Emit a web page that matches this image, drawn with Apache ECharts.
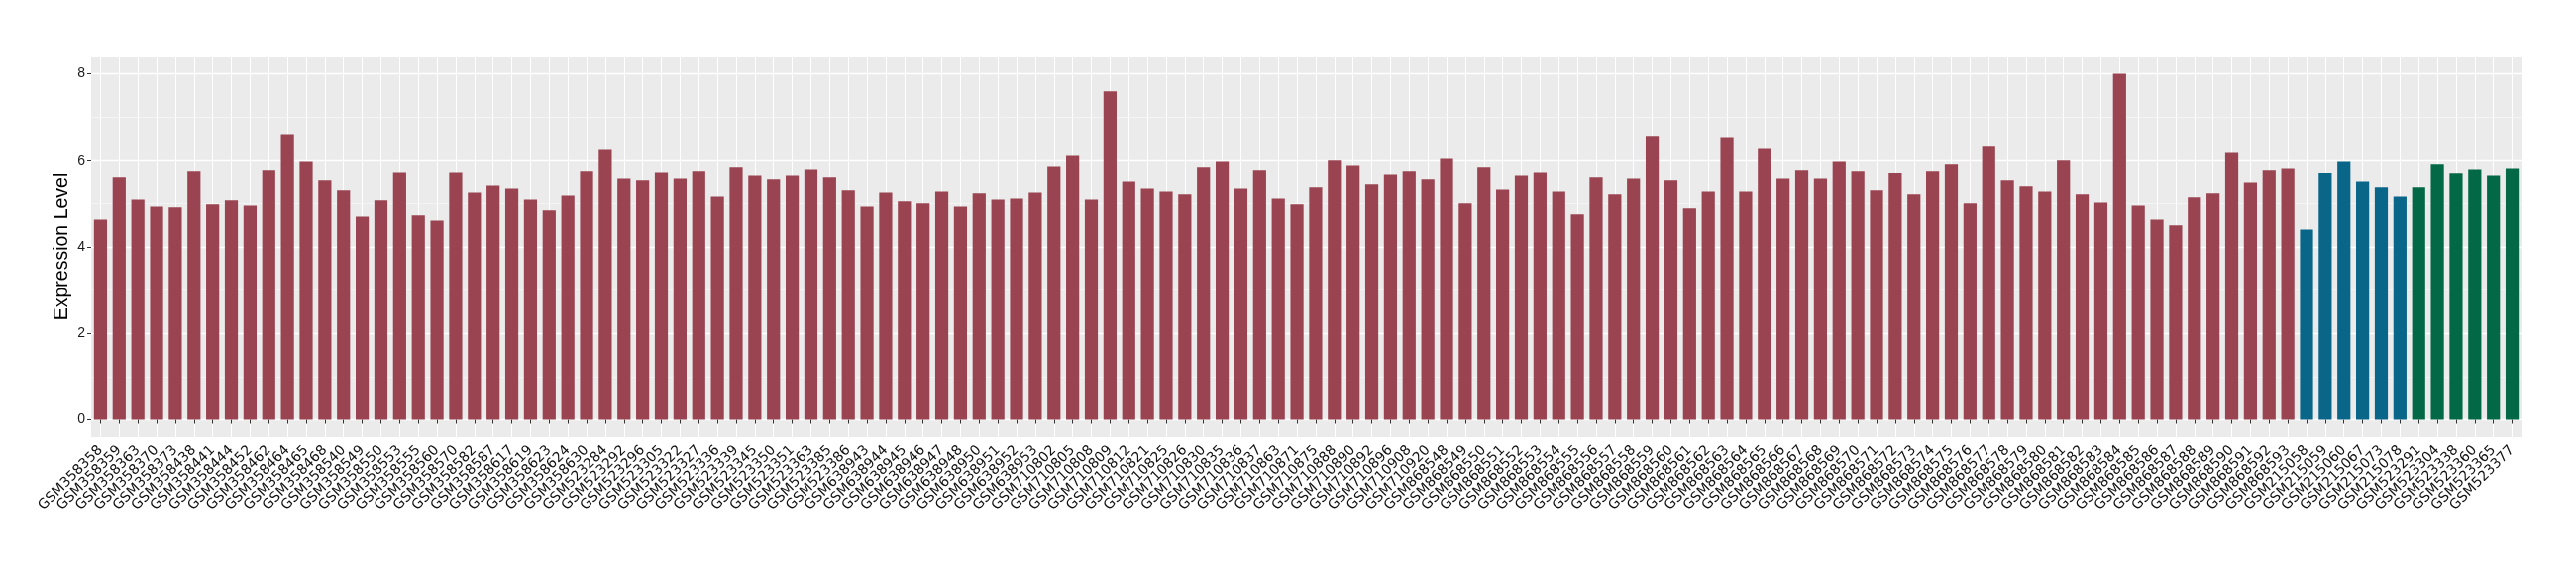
<!DOCTYPE html>
<html>
<head>
<meta charset="utf-8">
<title>Expression Level</title>
<script src="https://cdn.jsdelivr.net/npm/echarts@6/dist/echarts.min.js"></script>
<style>
  html, body { margin: 0; padding: 0; background: #fff; }
  #chart { width: 2600px; height: 580px; }
</style>
</head>
<body>
<div id="chart"></div>
<script>
// sample ids per group (red = first dataset, then blue and green)
const samplesRed = [
  'GSM358358', 'GSM358359', 'GSM358363', 'GSM358370', 'GSM358373', 'GSM358438', 'GSM358441', 'GSM358444', 'GSM358452',
  'GSM358462', 'GSM358464', 'GSM358465', 'GSM358468', 'GSM358540', 'GSM358549', 'GSM358550', 'GSM358553', 'GSM358555',
  'GSM358560', 'GSM358570', 'GSM358582', 'GSM358587', 'GSM358617', 'GSM358619', 'GSM358623', 'GSM358624', 'GSM358630',
  'GSM523284', 'GSM523292', 'GSM523296', 'GSM523305', 'GSM523322', 'GSM523327', 'GSM523336', 'GSM523339', 'GSM523345',
  'GSM523350', 'GSM523351', 'GSM523363', 'GSM523385', 'GSM523386',
  'GSM638943', 'GSM638944', 'GSM638945', 'GSM638946', 'GSM638947', 'GSM638948', 'GSM638950', 'GSM638951', 'GSM638952', 'GSM638953',
  'GSM710802', 'GSM710805', 'GSM710808', 'GSM710809', 'GSM710812', 'GSM710821', 'GSM710825', 'GSM710826', 'GSM710830',
  'GSM710835', 'GSM710836', 'GSM710837', 'GSM710863', 'GSM710871', 'GSM710875', 'GSM710888', 'GSM710890', 'GSM710892',
  'GSM710896', 'GSM710908', 'GSM710920',
  'GSM868548', 'GSM868549', 'GSM868550', 'GSM868551', 'GSM868552', 'GSM868553', 'GSM868554', 'GSM868555', 'GSM868556',
  'GSM868557', 'GSM868558', 'GSM868559', 'GSM868560', 'GSM868561', 'GSM868562', 'GSM868563', 'GSM868564', 'GSM868565',
  'GSM868566', 'GSM868567', 'GSM868568', 'GSM868569', 'GSM868570', 'GSM868571', 'GSM868572', 'GSM868573', 'GSM868574',
  'GSM868575', 'GSM868576', 'GSM868577', 'GSM868578', 'GSM868579', 'GSM868580', 'GSM868581', 'GSM868582', 'GSM868583',
  'GSM868584', 'GSM868585', 'GSM868586', 'GSM868587', 'GSM868588', 'GSM868589', 'GSM868590', 'GSM868591', 'GSM868592',
  'GSM868593'
]
const samplesBlue = ['GSM215058', 'GSM215059', 'GSM215060', 'GSM215067', 'GSM215073', 'GSM215078']
const samplesGreen = ['GSM523291', 'GSM523304', 'GSM523338', 'GSM523360', 'GSM523365', 'GSM523377']

const valuesRed = [
  4.63, 5.60, 5.09, 4.93, 4.91, 5.76, 4.98, 5.07, 4.95, 5.78, 6.60, 5.98, 5.53, 5.30, 4.70, 5.07, 5.73, 4.73, 4.61, 5.73,
  5.25, 5.41, 5.34, 5.09, 4.84, 5.18, 5.76, 6.26, 5.57, 5.53, 5.73, 5.57, 5.76, 5.16, 5.85, 5.64, 5.55, 5.64, 5.80, 5.60,
  5.30, 4.93, 5.25, 5.05, 5.00, 5.27, 4.93, 5.23, 5.09, 5.11, 5.25, 5.87, 6.12, 5.09, 7.59, 5.50, 5.34, 5.27, 5.21, 5.85,
  5.98, 5.34, 5.78, 5.11, 4.98, 5.37, 6.01, 5.89, 5.44, 5.66, 5.76, 5.55, 6.05, 5.00, 5.85, 5.32, 5.64, 5.73, 5.27, 4.75,
  5.60, 5.21, 5.57, 6.56, 5.53, 4.89, 5.27, 6.53, 5.27, 6.28, 5.57, 5.78, 5.57, 5.98, 5.76, 5.30, 5.71, 5.21, 5.76, 5.92,
  5.00, 6.33, 5.53, 5.39, 5.27, 6.01, 5.21, 5.02, 8.00, 4.95, 4.63, 4.50, 5.14, 5.23, 6.19, 5.48, 5.78, 5.82
]
const valuesBlue = [4.40, 5.71, 5.98, 5.50, 5.37, 5.16]
const valuesGreen = [5.37, 5.92, 5.69, 5.80, 5.64, 5.82]

const yTicks = [0, 2, 4, 6, 8]
const yMinorTicks = [1, 3, 5, 7]

const chart = echarts.init(document.getElementById('chart'))

// 每个柱子按分组上色
const barData = []
valuesRed.forEach(v => barData.push({ value: v, itemStyle: { color: '#9A4351' } }))
valuesBlue.forEach(v => barData.push({ value: v, itemStyle: { color: '#0A6688' } }))
valuesGreen.forEach(v => barData.push({ value: v, itemStyle: { color: '#036846' } }))

const option = {
  animation: false,
  backgroundColor: '#ffffff',
  grid: {
    left: 92,
    right: 55,
    top: 57,
    bottom: 139,
    show: true,
    backgroundColor: '#EBEBEB',
    borderWidth: 0
  },
  xAxis: {
    type: 'category',
    data: samplesRed.concat(samplesBlue, samplesGreen),
    boundaryGap: true,
    axisLine: { show: false },
    axisTick: { show: true, alignWithLabel: true, length: 4, lineStyle: { color: '#333333' } },
    axisLabel: {
      interval: 0,
      rotate: 45,
      margin: 11,
      fontSize: 14,
      color: '#111111',
      fontFamily: 'DejaVu Sans'
    },
    splitLine: { show: true, alignWithLabel: true, lineStyle: { color: '#ffffff', width: 1 } }
  },
  yAxis: {
    type: 'value',
    min: -0.4,
    max: 8.4,
    name: 'Expression Level',
    nameLocation: 'middle',
    nameGap: 19,
    nameMoveOverlap: false,
    nameTextStyle: { fontSize: 19.5, color: '#000000', fontFamily: 'Liberation Sans' },
    axisLine: { show: false },
    axisTick: { show: true, customValues: yTicks, length: 4, lineStyle: { color: '#333333' } },
    axisLabel: {
      customValues: yTicks,
      margin: 6,
      fontSize: 14,
      color: '#1A1A1A',
      fontFamily: 'Liberation Sans'
    },
    splitLine: { show: true, lineStyle: { color: '#ffffff', width: 1.4 } }
  },
  series: [
    {
      // 只用来画次网格线, 放在柱子下面
      type: 'line',
      data: [],
      z: 1,
      silent: true,
      markLine: {
        z: 1,
        silent: true,
        symbol: 'none',
        label: { show: false },
        lineStyle: { color: '#F6F6F6', width: 0.8, type: 'solid' },
        data: yMinorTicks.map(v => ({ yAxis: v }))
      }
    },
    {
      type: 'bar',
      z: 2,
      barWidth: '70%',
      data: barData
    }
  ]
}
chart.setOption(option)
</script>
</body>
</html>
